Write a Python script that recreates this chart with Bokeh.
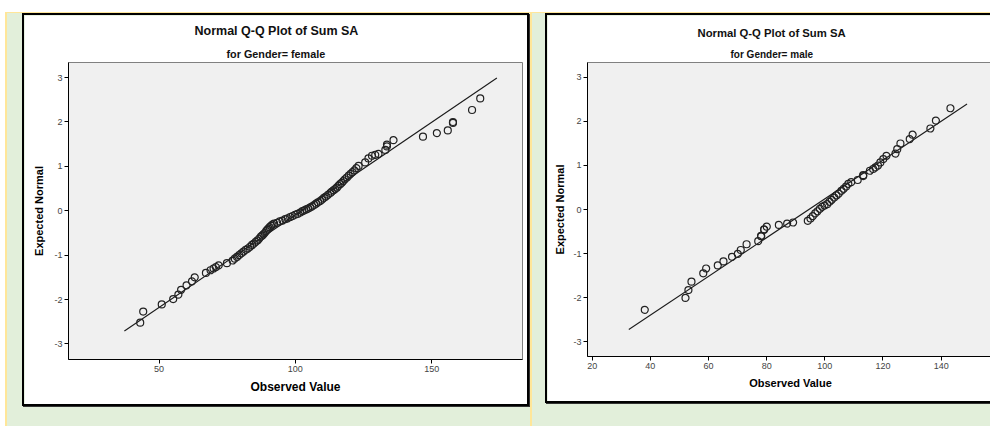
from bokeh.plotting import figure
from bokeh.layouts import row
from bokeh.models import Title, Spacer
from bokeh.embed import file_html
from bokeh.resources import INLINE

# ---------------- data ----------------
female_x = [43.1, 44.2, 51.0, 55.2, 57.1, 58.1, 60.1, 62.1, 63.1, 67.2, 68.9, 70.0, 70.9, 71.9, 74.9,
            77.0, 77.8, 78.6, 79.4, 80.2, 81.0, 81.8, 82.6, 83.4, 84.1, 84.8, 85.5, 86.1, 86.7, 87.3,
            87.8, 88.3, 88.8, 89.3, 89.7, 90.1, 90.6, 91.1, 91.6, 92.2,
            93.3, 94.3, 95.3, 96.3, 97.2, 98.1, 99.0, 99.9, 100.8, 101.8,
            102.6, 103.3, 104.0, 104.7, 105.5, 106.2, 106.9, 107.6, 108.3, 109.1, 109.8, 110.5, 111.2,
            112.0, 112.8, 113.4, 114.0, 114.6, 115.2, 115.8, 116.4, 117.0, 117.6, 118.2, 118.9, 119.6,
            120.3, 121.0, 121.7, 122.4, 123.2,
            125.6, 126.8, 128.1, 129.3, 130.5, 133.0, 133.6, 133.6, 136.0,
            146.8, 151.9, 155.9, 157.8, 157.8, 164.8, 167.8]
female_y = [-2.52, -2.27, -2.11, -1.99, -1.89, -1.78, -1.68, -1.59, -1.50, -1.40, -1.34, -1.30, -1.27, -1.23, -1.18,
            -1.12, -1.08, -1.04, -1.00, -0.96, -0.92, -0.88, -0.85, -0.81, -0.77, -0.74, -0.70, -0.67, -0.63, -0.59,
            -0.56, -0.53, -0.50, -0.46, -0.43, -0.40, -0.37, -0.34, -0.31, -0.29,
            -0.27, -0.24, -0.22, -0.19, -0.17, -0.14, -0.12, -0.09, -0.07, -0.04,
            -0.01, 0.01, 0.03, 0.05, 0.075, 0.10, 0.13, 0.16, 0.19, 0.22, 0.25, 0.29, 0.32,
            0.36, 0.40, 0.43, 0.46, 0.49, 0.52, 0.56, 0.60, 0.63, 0.67, 0.71, 0.75, 0.79,
            0.83, 0.87, 0.91, 0.96, 1.01,
            1.09, 1.18, 1.24, 1.26, 1.28, 1.37, 1.45, 1.49, 1.59,
            1.67, 1.75, 1.81, 1.98, 2.00, 2.27, 2.53]
female_mean, female_sd = 102.2, 23.96
female_line_x = [37.3, 173.9]

male_x = [38.1, 52.1, 53.1, 54.15, 58.2, 59.2, 63.2, 65.15, 68.1, 70.1, 71.1, 73.1, 77.1, 78.1, 78.1,
          79.15, 79.15, 80.05, 84.2, 87.05, 89.1,
          94.15, 95.07, 95.87, 96.7, 97.5, 98.3, 99.1, 99.9, 100.8, 101.6, 102.4, 103.2, 104.0, 104.8,
          105.7, 106.5, 107.3, 108.1, 109.1, 111.3, 113.2, 113.2, 115.5, 116.6, 117.4, 118.3, 119.1,
          120.1, 121.2, 124.3, 124.9, 126.0, 129.2, 130.2, 136.3, 138.2, 143.2]
male_y = [-2.28, -2.01, -1.83, -1.64, -1.45, -1.34, -1.27, -1.18, -1.075, -1.01, -0.92, -0.79, -0.72, -0.61, -0.60,
          -0.46, -0.45, -0.39, -0.35, -0.32, -0.295,
          -0.257, -0.204, -0.151, -0.09, -0.04, 0.016, 0.06, 0.09, 0.12, 0.175, 0.22, 0.27, 0.32, 0.36,
          0.425, 0.47, 0.52, 0.58, 0.62, 0.67, 0.76, 0.78, 0.88, 0.92, 0.955, 1.00, 1.07,
          1.145, 1.22, 1.27, 1.37, 1.50, 1.60, 1.70, 1.84, 2.02, 2.30]
male_mean, male_sd = 94.5, 22.69
male_line_x = [32.6, 148.9]

female_xticks = [50, 100, 150]
male_xticks = [20, 40, 60, 80, 100, 120, 140]
yticks = [-3, -2, -1, 0, 1, 2, 3]

main_title = "Normal Q-Q Plot of Sum SA"
female_sub = "for Gender= female"
male_sub = "for Gender= male"
x_label = "Observed Value"
y_label = "Expected Normal"

FONT = "Liberation Sans"
GREEN = "#e2efda"
YELLOW = "#ffe699"


def panel(xs, ys, mean, sd, line_x, xr, yr, xticks, sub, w, h, borders, st):
    p = figure(width=w, height=h, x_range=xr, y_range=yr, output_backend="svg",
               toolbar_location=None, tools="",
               min_border_left=borders[0], min_border_right=borders[1],
               min_border_top=borders[2], min_border_bottom=borders[3])
    p.background_fill_color = "#f0f0f0"
    p.border_fill_color = "white"
    p.outline_line_color = "#808080"
    p.outline_line_width = 1
    p.grid.visible = False

    p.add_layout(Title(text=sub, align="left", offset=st["sub_off"], text_font=FONT,
                       text_font_size=st["sub_size"], text_font_style="bold", text_color="#111",
                       standoff=6), "above")
    p.add_layout(Title(text=main_title, align="left", offset=st["main_off"], text_font=FONT,
                       text_font_size=st["main_size"], text_font_style="bold", text_color="#111",
                       standoff=st["main_standoff"]), "above")

    line_y = [(v - mean) / sd for v in line_x]
    p.line(line_x, line_y, line_color="#1a1a1a", line_width=1.1)
    p.scatter(xs, ys, marker="circle", size=7, fill_color=None, line_color="#222222",
              line_width=1.2)

    for ax in (p.xaxis[0], p.yaxis[0]):
        ax.axis_line_color = "#000"
        ax.axis_line_width = 1
        ax.major_tick_line_color = "#000"
        ax.major_tick_out = 4
        ax.major_tick_in = 0
        ax.minor_tick_line_color = None
        ax.major_label_text_font = FONT
        ax.major_label_text_font_size = "9px"
        ax.major_label_text_color = "#444"
        ax.major_label_standoff = 2
        ax.axis_label_text_font = FONT
        ax.axis_label_text_font_style = "bold"
        ax.axis_label_text_color = "#000"

    p.xaxis.ticker = xticks
    p.xaxis.major_label_overrides = {t: str(t) for t in xticks}
    p.yaxis.ticker = yticks
    p.yaxis.major_label_overrides = {t: str(t) for t in yticks}
    p.xaxis.axis_label = x_label
    p.yaxis.axis_label = y_label
    p.xaxis.axis_label_text_font_size = st["xlab_size"]
    p.yaxis.axis_label_text_font_size = "11px"
    p.xaxis.axis_label_standoff = 5
    p.yaxis.axis_label_standoff = st["ylab_standoff"]
    return p


p1 = panel(female_x, female_y, female_mean, female_sd, female_line_x,
           (16.8, 183.3), (-3.35, 3.34), female_xticks, female_sub,
           503, 389, (44, 5, 47, 45),
           dict(sub_off=158, sub_size="10.8px", main_off=126, main_size="12.5px",
                main_standoff=9, xlab_size="12px", ylab_standoff=6))
p2 = panel(male_x, male_y, male_mean, male_sd, male_line_x,
           (18.4, 158.0), (-3.34, 3.34), male_xticks, male_sub,
           446, 386, (40, 0, 47, 45),
           dict(sub_off=143, sub_size="10px", main_off=110, main_size="11.3px",
                main_standoff=10, xlab_size="11px", ylab_standoff=4))

p1.margin = (3, 0, 22, 19)
p2.margin = (3, 0, 0, 15)
p1.styles = {"box-shadow": "0 0 0 2px #000, 1px 1px 0 2px #333"}
p2.styles = {"box-shadow": "0 0 0 2px #000, 1px 1px 0 2px #333"}

sep = Spacer(width=2, height=414, margin=(0, 0, 0, 3), styles={"background-color": YELLOW})

root = row(p1, sep, p2)
root.margin = (12, 0, 0, 5)
root.styles = {"background-color": GREEN, "box-shadow": "inset 2px 1px 0 0 " + YELLOW}

html = file_html(root, INLINE)
html = html.replace("<body>", '<body style="margin:0;padding:0;background:#ffffff;overflow:hidden">')
open("out.html", "w").write(html)
